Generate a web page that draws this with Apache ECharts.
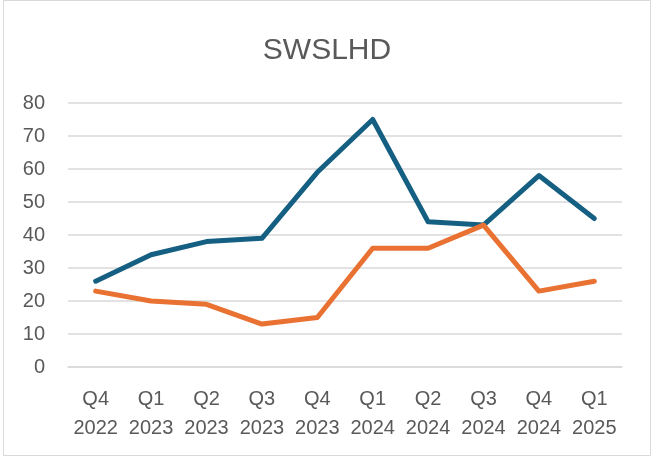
<!DOCTYPE html>
<html>
<head>
<meta charset="utf-8">
<script src="https://cdn.jsdelivr.net/npm/echarts@6/dist/echarts.min.js"></script>
<style>
html,body{margin:0;padding:0;background:#fff;}
#chart{width:654px;height:458px;}
</style>
</head>
<body>
<div id="chart"></div>
<script>
var quarters = ['Q4\n2022','Q1\n2023','Q2\n2023','Q3\n2023','Q4\n2023','Q1\n2024','Q2\n2024','Q3\n2024','Q4\n2024','Q1\n2025'];
var blueSeries = [26, 34, 38, 39, 59, 75, 44, 43, 58, 45];
var orangeSeries = [23, 20, 19, 13, 15, 36, 36, 43, 23, 26];

var chart = echarts.init(document.getElementById('chart'));
var option = {
    backgroundColor: '#fff',
    animation: false,
    textStyle: { fontFamily: 'Liberation Sans, Arial, sans-serif', color: '#595959' },
    title: {
        text: 'SWSLHD',
        left: 'center',
        top: 31,
        textStyle: { fontSize: 30, fontWeight: 'normal', color: '#595959' }
    },
    graphic: [{
        type: 'rect',
        shape: { x: 3.5, y: 0.5, width: 647, height: 455 },
        style: { fill: 'none', stroke: '#d9d9d9', lineWidth: 1 },
        silent: true
    }],
    grid: { left: 68, right: 32, top: 103, bottom: 91 },
    xAxis: {
        type: 'category',
        boundaryGap: true,
        data: quarters,
        axisLine: { show: true, lineStyle: { color: '#d9d9d9', width: 1.5 } },
        axisTick: { show: false },
        axisLabel: { color: '#595959', fontSize: 20, lineHeight: 29, margin: 18, interval: 0 }
    },
    yAxis: {
        type: 'value',
        min: 0,
        max: 80,
        interval: 10,
        axisLine: { show: false },
        axisTick: { show: false },
        axisLabel: { color: '#595959', fontSize: 20, margin: 23 },
        splitLine: { lineStyle: { color: '#d9d9d9', width: 1.5 } }
    },
    series: [{
        name: 'SWSLHD',
        type: 'line',
        data: blueSeries,
        symbol: 'none',
        lineStyle: { color: '#156082', width: 5, cap: 'round', join: 'round' },
        itemStyle: { color: '#156082' }
    }, {
        name: 'Other',
        type: 'line',
        data: orangeSeries,
        symbol: 'none',
        lineStyle: { color: '#e97132', width: 5, cap: 'round', join: 'round' },
        itemStyle: { color: '#e97132' }
    }]
};
chart.setOption(option);
</script>
</body>
</html>
